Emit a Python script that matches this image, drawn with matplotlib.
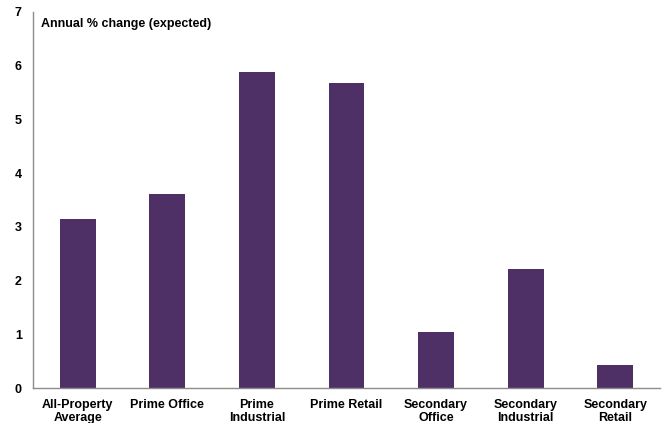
import matplotlib
matplotlib.use("Agg")
import matplotlib.pyplot as plt
import numpy as np

categories = ["All-Property\nAverage", "Prime Office", "Prime\nIndustrial", "Prime Retail",
              "Secondary\nOffice", "Secondary\nIndustrial", "Secondary\nRetail"]
values = [3.15, 3.62, 5.88, 5.67, 1.05, 2.22, 0.42]
yticks = [0, 1, 2, 3, 4, 5, 6, 7]

plt.rcParams['font.family'] = ['Liberation Sans', 'DejaVu Sans']

fig = plt.figure(figsize=(6.69, 4.23), dpi=100)
ax = fig.add_axes([0.0493, 0.0827, 0.9372, 0.889])

x = np.arange(len(categories))
ax.bar(x, values, width=0.4, color='#4E3067')

ax.set_xlim(-0.5, len(categories) - 0.5)
ax.set_ylim(0, 7)
ax.set_yticks(yticks)
ax.set_yticklabels([str(t) for t in yticks], fontsize=9, fontweight='bold')
ax.set_xticks(x)
ax.set_xticklabels(categories, fontsize=9, fontweight='bold', linespacing=1.15)
ax.tick_params(axis='both', length=0)
ax.tick_params(axis='y', pad=8)
ax.tick_params(axis='x', pad=8)

for s in ['top', 'right']:
    ax.spines[s].set_visible(False)
for s in ['left', 'bottom']:
    ax.spines[s].set_color('#8c8c8c')
    ax.spines[s].set_linewidth(1)

ax.text(0.012, 0.985, "Annual % change (expected)", transform=ax.transAxes,
        fontsize=9, fontweight='bold', va='top', ha='left')

fig.savefig("out.png", dpi=100)
